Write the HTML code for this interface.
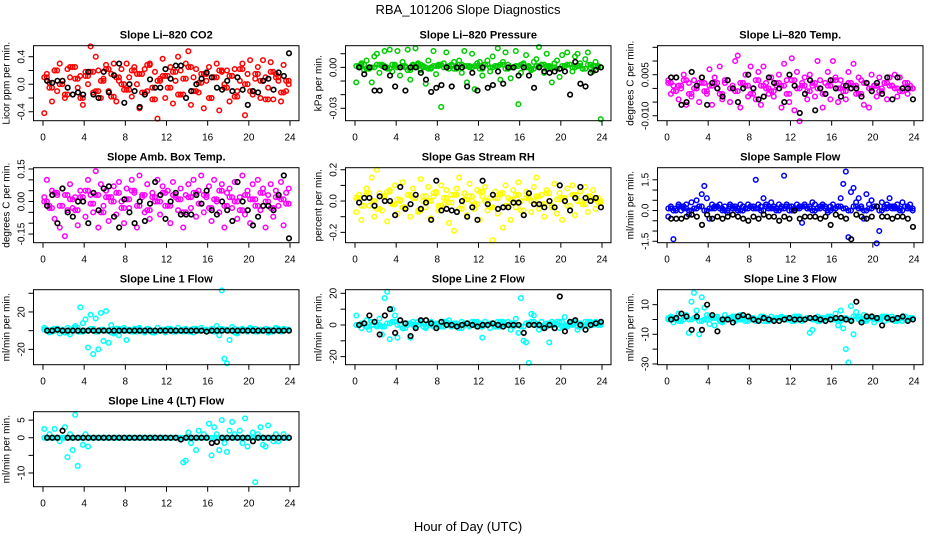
<!DOCTYPE html>
<html><head><meta charset="utf-8"><title>RBA_101206 Slope Diagnostics</title>
<style>
html,body{margin:0;padding:0;background:#fff;}
svg{display:block;font-family:"Liberation Sans",Arial,sans-serif;}
</style></head>
<body>
<svg id="chart" width="936" height="540" viewBox="0 0 936 540" xmlns="http://www.w3.org/2000/svg">
<text x="468" y="14" font-size="13" text-anchor="middle">RBA_101206  Slope Diagnostics</text>
<text x="468" y="531" font-size="13" text-anchor="middle">Hour of Day (UTC)</text>
</svg>
<script>
const xTicks = [0,4,8,12,16,20,24];

// Panel 1: CO2
const co2Vals = [-0.42,0.15,0.02,-0.25,0.2,-0.1,0.3,0.05,-0.2,0.22,0.1,-0.15,0.25,-0.05,0.12,-0.3,0.18,0.0,0.55,-0.12,0.4,0.2,-0.2,0.08,0.28,-0.1,0.15,0.3,-0.25,0.05,0.22,-0.08,0.3,0.1,-0.18,0.25,0.0,-0.35,0.15,0.22,-0.1,0.3,-0.05,0.18,-0.5,0.08,0.37,-0.2,0.12,0.25,-0.28,0.05,0.4,0.2,-0.15,0.3,0.48,-0.3,0.1,0.22,-0.12,0.15,-0.35,0.05,0.25,-0.2,0.1,0.3,-0.38,0.18,0.0,0.2,-0.25,0.12,0.22,-0.1,0.05,0.3,-0.45,0.15,0.35,-0.15,0.08,0.25,-0.2,0.35,0.1,-0.05,0.32,-0.22,0.15,0.05,-0.25,0.28,-0.1,0.0];
const co2Band = [0.1,-0.05,0.2,0.0,-0.15,0.25,0.08,-0.2,0.12,0.18,-0.1,0.05,0.22,-0.18,0.1,0.0,-0.08,0.2,0.15,-0.12,0.28,-0.22,0.05,0.12,-0.05,0.18,-0.15,0.08,0.25,-0.1,0.02,0.15,-0.2,0.1,0.2,-0.05,0.12,-0.18,0.22,0.0,-0.1,0.15,0.05,-0.22,0.18,0.1,-0.12,0.05];
const co2Ref = [0.05,0.02,0.05,0.05,-0.05,-0.15,-0.12,-0.15,0.18,-0.15,-0.2,0.18,-0.12,0.13,0.3,-0.27,0.0,-0.1,-0.33,-0.15,0.07,-0.05,-0.05,0.22,0.08,0.27,0.27,-0.2,-0.1,0.0,0.08,0.17,0.1,-0.05,-0.08,0.05,-0.1,0.1,-0.08,-0.3,-0.1,-0.12,0.05,0.08,-0.08,0.17,0.12,0.45];

// Panel 2: Pressure
const presVals = [-0.011,0.001,0.003,-0.002,0.005,0.0,-0.011,0.008,0.01,-0.004,0.002,0.012,0.0,0.013,-0.003,0.001,0.012,-0.006,0.004,0.0,0.013,-0.009,0.002,0.014,0.003,-0.002,0.001,-0.012,0.005,0.0,0.012,-0.005,0.001,-0.029,0.003,0.011,-0.001,0.002,0.004,0.0,0.005,-0.004,0.012,-0.011,0.001,0.01,-0.016,0.003,0.004,-0.006,0.002,0.005,-0.003,0.008,0.001,0.014,-0.009,0.004,0.011,0.002,-0.008,0.0,0.012,-0.027,-0.004,0.003,0.009,0.001,-0.002,0.004,0.006,0.015,0.002,-0.004,0.01,0.0,-0.011,0.003,0.005,-0.007,0.009,0.001,0.011,0.002,-0.003,0.008,0.01,0.003,-0.001,0.006,0.011,0.0,-0.003,0.004,0.001,-0.038];
const presBand = [0.001,0.002,-0.001,0.0,0.002,0.001,-0.001,0.002,0.0,0.001,-0.002,0.001,0.002,0.0,-0.001,0.001,0.002,0.0,0.001,-0.001,0.002,0.001,0.0,0.001,-0.001,0.002,0.0,0.001,0.002,-0.001,0.0,0.001,0.002,0.0,-0.001,0.001,0.002,0.001,0.0,-0.001,0.001,0.002,0.0,0.001,-0.001,0.002,0.001,0.0];
const presRef = [0.0,-0.005,0.0,-0.017,-0.017,0.0,-0.006,-0.014,0.0,-0.017,0.0,0.0,-0.004,-0.009,-0.018,-0.015,-0.013,0.0,-0.014,0.0,0.0,-0.014,-0.004,-0.017,0.0,-0.015,-0.013,-0.003,-0.012,0.0,0.0,-0.006,0.0,-0.006,-0.015,0.0,-0.003,-0.004,-0.003,-0.001,-0.003,-0.02,0.004,-0.012,-0.014,-0.004,-0.002,0.0];

// Panel 3: Li-820 temp
const ltVals = [0.003,-0.002,0.001,0.004,-0.004,0.0,0.005,-0.006,0.002,-0.003,0.003,0.0,-0.005,0.004,0.002,-0.002,0.007,-0.006,0.004,0.0,0.008,-0.004,0.002,0.003,-0.005,0.001,0.01,0.012,-0.007,0.002,0.005,-0.003,0.008,0.0,-0.004,0.006,-0.006,0.008,0.002,-0.002,0.004,-0.003,0.001,0.005,-0.007,0.009,0.003,-0.005,0.011,-0.008,0.006,-0.012,0.002,0.004,-0.004,0.005,0.001,-0.003,0.01,0.003,-0.007,0.002,0.006,-0.004,0.01,0.004,-0.005,0.003,0.001,-0.004,0.006,0.0,0.009,-0.002,0.004,0.003,-0.006,0.002,-0.007,0.005,0.001,-0.003,0.004,0.0,0.002,-0.004,0.004,0.001,0.005,-0.003,0.004,0.0,0.002,-0.002,0.001,0.0];
const ltBand = [0.002,-0.001,0.001,0.003,-0.002,0.0,0.002,-0.001,0.001,0.002,-0.002,0.003,0.0,-0.001,0.002,0.001,-0.002,0.003,0.001,0.0,-0.001,0.002,0.001,-0.002,0.003,0.0,0.001,-0.001,0.002,0.0,-0.002,0.001,0.003,0.0,-0.001,0.002,0.001,-0.002,0.002,0.0,0.001,-0.001,0.002,0.001,0.0,-0.001,0.002,0.0];
const ltRef = [0.004,0.004,-0.006,-0.005,0.006,0.001,0.004,-0.006,0.002,0.0,-0.003,0.003,0.0,-0.005,0.0,0.005,0.0,-0.004,-0.003,0.004,0.002,0.0,-0.005,0.005,0.001,-0.009,-0.002,0.003,-0.008,0.0,-0.002,0.003,0.0,-0.003,0.001,-0.0,0.0,-0.003,0.002,-0.001,0.002,-0.002,0.004,-0.004,0.004,0.0,0.0,-0.004];

// Panel 4: Amb box temp
const abVals = [0.02,0.1,-0.02,0.05,-0.08,0.03,-0.12,0.06,-0.16,-0.04,0.08,-0.03,0.02,-0.11,0.05,0.0,-0.07,0.1,0.03,-0.05,0.14,-0.12,0.08,-0.02,0.05,-0.09,0.02,0.07,-0.06,0.09,0.0,-0.1,0.06,-0.03,0.1,0.04,-0.12,0.12,0.02,-0.05,0.08,-0.08,0.04,0.0,0.1,-0.06,0.07,-0.02,0.05,-0.1,0.09,0.02,-0.04,0.06,-0.12,0.03,0.08,-0.03,0.1,-0.07,0.05,0.12,-0.05,0.02,0.07,-0.09,0.1,0.0,-0.05,0.08,-0.12,0.04,0.06,-0.03,0.09,-0.08,0.02,0.12,-0.06,0.05,-0.1,0.08,0.01,0.1,-0.04,0.06,-0.12,0.03,0.08,-0.07,0.05,-0.02,0.09,-0.11,0.04,0.06];
const abBand = [0.0,-0.03,0.04,-0.02,0.03,0.01,-0.04,0.02,0.05,-0.01,0.03,-0.05,0.02,0.0,0.04,-0.03,0.01,0.05,-0.02,0.03,-0.04,0.02,0.0,0.04,-0.02,0.03,0.01,-0.05,0.02,0.04,-0.01,0.03,-0.03,0.01,0.05,-0.02,0.02,0.0,-0.04,0.03,0.01,-0.02,0.04,0.0,-0.03,0.02,0.01,-0.01];
const abRef = [-0.02,0.03,-0.1,0.06,-0.05,-0.07,0.0,0.0,-0.1,0.04,-0.04,0.06,0.07,-0.07,-0.12,0.01,-0.05,-0.1,0.0,-0.09,-0.01,0.09,0.03,-0.08,0.0,0.04,-0.06,-0.06,-0.06,0.03,-0.01,0.05,-0.04,-0.06,0.0,-0.04,-0.09,0.09,0.0,-0.04,-0.11,-0.07,-0.02,-0.02,-0.04,0.03,0.12,-0.17];

// Panel 5: Gas stream RH
const rhVals = [-0.07,0.04,-0.12,0.02,0.08,-0.03,0.15,-0.1,0.2,0.05,-0.06,0.03,-0.13,0.07,-0.02,0.1,-0.08,0.0,0.12,-0.05,0.04,-0.1,0.08,0.02,-0.07,0.14,0.0,-0.04,0.09,-0.11,0.03,0.06,-0.06,0.1,-0.02,0.07,-0.14,0.04,-0.19,0.08,0.15,-0.03,0.05,-0.09,0.11,0.0,-0.05,0.07,-0.12,0.03,0.09,-0.06,0.02,-0.25,0.06,-0.08,0.04,-0.17,0.1,0.02,-0.12,0.07,-0.04,0.12,0.0,-0.09,0.06,0.03,-0.07,0.09,0.15,-0.05,0.04,-0.1,0.07,0.0,-0.03,0.11,-0.08,0.05,-0.12,0.02,0.08,-0.06,0.1,-0.09,0.04,0.06,-0.02,0.09,-0.07,0.03,0.07,-0.05,0.02,0.0];
const rhBand = [0.02,-0.03,0.05,0.0,-0.05,0.03,0.06,-0.02,0.01,-0.04,0.04,0.02,-0.06,0.03,0.0,0.05,-0.03,0.02,-0.01,0.04,-0.05,0.01,0.03,-0.02,0.06,0.0,-0.04,0.02,0.05,-0.03,0.01,0.04,-0.06,0.02,0.0,0.03,-0.02,0.05,-0.04,0.01,0.02,-0.03,0.04,0.0,-0.02,0.03,0.01,-0.01];
const rhRef = [-0.01,0.02,0.02,-0.03,0.03,0.0,0.0,-0.09,0.09,-0.05,-0.02,0.04,-0.05,-0.01,-0.12,0.13,-0.06,-0.05,-0.06,-0.07,0.0,-0.1,-0.04,-0.12,0.13,-0.02,0.04,-0.05,-0.04,-0.04,-0.01,-0.01,-0.09,0.05,-0.02,-0.02,-0.04,0.0,-0.04,0.1,0.0,-0.06,0.02,0.09,0.02,0.0,0.02,-0.04];

// Panel 6: Sample flow
const sfVals = [-0.3,0.2,-1.4,0.1,0.3,0.0,0.2,0.3,-0.2,0.4,0.1,0.5,0.2,0.8,1.2,0.6,-0.4,0.3,0.1,0.2,0.3,0.0,0.2,-0.1,0.3,0.1,0.2,0.0,0.3,0.2,0.1,0.3,0.2,0.1,1.5,0.3,0.2,0.6,0.3,0.1,0.4,0.2,0.1,0.3,0.2,1.7,0.3,0.0,0.2,0.1,0.3,0.2,-0.6,0.3,0.1,0.2,0.4,0.3,0.1,0.2,0.3,0.1,-0.1,0.2,0.3,0.1,0.2,0.6,1.3,1.9,-1.3,0.9,1.1,0.4,0.6,0.2,-0.4,0.8,0.3,0.5,0.2,-1.6,-1.0,0.4,0.2,0.3,0.6,0.1,0.2,0.3,0.1,0.4,0.2,0.1,0.3,0.0];
const sfBand = [0.1,0.0,0.2,0.1,0.0,0.1,0.2,0.0,0.1,0.2,0.1,0.0,0.2,0.1,0.0,0.1,0.2,0.1,0.0,0.2,0.1,0.0,0.1,0.2,0.0,0.1,0.2,0.1,0.0,0.1,0.2,0.0,0.1,0.2,0.1,0.0,0.2,0.1,0.0,0.1,0.2,0.0,0.1,0.2,0.1,0.0,0.2,0.1];
const sfRef = [-0.4,-0.4,-0.4,-0.3,-0.2,-0.3,-0.7,-0.2,-0.4,-0.3,-0.4,-0.3,-0.2,-0.3,-0.4,-0.5,-0.3,-0.4,-0.2,-0.3,-0.3,-0.5,-0.3,-0.4,0.0,-0.4,-0.3,-0.3,-0.3,-0.4,-0.3,-0.7,-0.2,-0.3,-0.4,-1.4,-0.2,-0.3,-0.4,-0.3,0.2,-0.3,-0.3,-0.4,-0.3,-0.3,-0.4,-0.8];

// Panel 7: Line 1 flow
const l1Vals = [3,0,-2,1,0,2,-3,1,0,3,-4,2,5,-1,25,8,12,-18,17,-25,13,-20,19,-11,21,-13,6,-3,2,-5,0,3,-10,1,0,2,-1,3,0,-2,2,1,0,-1,3,0,1,-2,2,0,1,-1,3,0,-1,2,0,1,-2,2,0,3,1,-1,0,2,0,5,-5,43,-30,-35,-10,4,2,-3,0,2,1,-1,3,0,2,-1,1,0,2,-2,1,0,3,0,-1,2,1,0];
const l1Band = [1,-1,2,0,-2,1,3,-1,0,2,-1,1,0,-2,2,1,0,-1,2,0,1,-2,0,1,2,-1,0,1,-1,2,0,1,0,-1,2,1,0,-2,1,0,2,-1,0,1,-1,2,0,1];
const l1Ref = [0,0,1,0,0,0,0,0,0,0,0,0,0,0,0,0,0,0,0,0,0,0,0,0,0,0,0,0,0,0,0,-1,0,0,0,0,0,0,0,0,0,0,0,0,0,0,0,0];

// Panel 8: Line 2 flow
const l2Vals = [6,0,-2,1,3,-3,0,2,-1,4,-6,17,21,-9,10,6,-8,3,-2,1,0,-8,2,-1,0,3,1,-2,0,2,-1,1,0,2,-1,0,3,-1,1,0,-2,2,0,1,-1,2,0,-1,1,-8,2,0,-2,1,0,2,-1,1,0,2,-3,-1,4,-5,17,-10,-11,-24,7,6,1,-3,2,0,-1,-11,2,1,0,-2,2,5,-1,1,0,2,-3,1,0,2,-1,1,0,2,0,1];
const l2Band = [0,1,-1,2,0,-1,1,2,0,-2,1,0,2,-1,1,0,-1,2,0,1,-2,1,0,2,-1,0,1,-1,2,0,1,0,-1,1,2,0,-1,1,0,2,-1,0,1,-1,0,2,1,0];
const l2Ref = [0,1,6,2,-6,6,10,-5,3,1,-7,-2,3,3,1,-2,2,0,0,-1,0,1,0,-1,0,0,1,0,-1,0,0,0,-5,0,0,0,-2,0,-2,18,-4,2,3,0,-3,0,1,2];

// Panel 9: Line 3 flow
const l3Vals = [0,2,-2,1,4,-1,0,3,-9,12,18,6,-10,15,8,3,-3,1,-4,2,0,-2,3,1,0,2,-1,0,3,1,-1,2,0,1,-1,0,2,-1,1,0,2,0,1,-1,2,0,1,0,-1,2,0,1,-1,0,1,-9,-7,0,2,1,0,-1,1,2,0,4,-4,6,-6,-20,-29,9,-10,5,2,-1,3,0,1,2,-2,1,0,2,-1,1,0,2,1,0,1,-1,2,0,1,0];
const l3Band = [1,0,-1,2,0,1,-1,0,2,1,-1,0,1,2,0,-1,1,0,2,-1,0,1,1,0,-1,2,0,1,0,-1,1,2,0,-1,1,0,2,0,-1,1,0,1,2,0,-1,1,0,1];
const l3Ref = [0,1,4,2,-7,2,-7,10,3,-8,0,0,-2,2,3,2,0,-1,1,0,-1,-1,0,1,0,0,0,1,1,0,-1,0,1,1,0,-1,12,-2,2,2,1,-4,1,0,1,2,-1,0];

// Panel 10: Line 4 (LT) flow
const l4Vals = [2.5,0,1,0,2.5,0,-1,0,3,-5.5,1,-3.5,6.5,-8,0,-2,1,-2.5,0,0,0,0,0,0,0,0,0,0,0,0,0,0,0,0,0,0,0,0,0,0,0,0,0,0,0,0,0,0,0,0,0,0,0,0,-7,-6.5,1.5,-1.5,0,-3.5,2,0,1,0,4,-5,3,1,-3.5,5,-1.5,-4,2,4.5,1,0,2,-1.5,5.5,-2.5,0,1.5,-12.6,1,3,-2,-2.5,3.5,0,-1,1,-1,0,1,0,0];
const l4Band = [0,0,0,0,0,0,0,0,0,0,0,0,0,0,0,0,0,0,0,0,0,0,0,0,0,0,0,0,0,0,0,0,0,0,0,0,0,0,0,0,0,0,0,0,0,0,0,0];
const l4Ref = [0,0,0,2,0,0,0,0,0,0,0,0,0,0,0,0,0,0,0,0,0,0,0,0,0,0,-0.5,0,0,0,0,0,-1.5,-1.2,0,0,0,0,0,0,-1,0,0,0,0,0,0,0];

const panels = [
 {name:'co2',col:0,row:0,title:'Slope Li\u2013820 CO2',ylab:'Licor ppm per min.',ymin:-0.53,ymax:0.56,ticks:[-0.4,-0.2,0,0.2,0.4],labels:['-0.4','','0.0','','0.4'],color:'#ff0000',vals:co2Vals,band:co2Band,ref:co2Ref},
 {name:'pressure',col:1,row:0,title:'Slope Li\u2013820 Pressure',ylab:'kPa per min.',ymin:-0.0391,ymax:0.0159,ticks:[-0.03,-0.02,-0.01,0,0.01],labels:['-0.03','','','0.00',''],color:'#00cc00',vals:presVals,band:presBand,ref:presRef},
 {name:'li-temp',col:2,row:0,title:'Slope Li\u2013820 Temp.',ylab:'degrees C per min.',ymin:-0.0118,ymax:0.0156,ticks:[-0.01,-0.005,0,0.005,0.01,0.015],labels:['-0.010','','','0.005','',''],color:'#ff00ff',vals:ltVals,band:ltBand,ref:ltRef},
 {name:'amb-box-temp',col:0,row:1,title:'Slope Amb. Box Temp.',ylab:'degrees C per min.',ymin:-0.19,ymax:0.156,ticks:[-0.15,-0.1,-0.05,0,0.05,0.1,0.15],labels:['-0.15','','','0.00','','','0.15'],color:'#ff00ff',vals:abVals,band:abBand,ref:abRef},
 {name:'gas-rh',col:1,row:1,title:'Slope Gas Stream RH',ylab:'percent per min.',ymin:-0.266,ymax:0.213,ticks:[-0.2,-0.1,0,0.1,0.2],labels:['-0.2','','0.0','','0.2'],color:'#ffff00',vals:rhVals,band:rhBand,ref:rhRef},
 {name:'sample-flow',col:2,row:1,title:'Slope Sample Flow',ylab:'ml/min per min.',ymin:-1.57,ymax:2.09,ticks:[-1.5,-1,-0.5,0,0.5,1,1.5],labels:['-1.5','','','0.0','','','1.5'],color:'#0000ff',vals:sfVals,band:sfBand,ref:sfRef},
 {name:'line1-flow',col:0,row:2,title:'Slope Line 1 Flow',ylab:'ml/min per min.',ymin:-36.4,ymax:43.8,ticks:[-20,0,20,40],labels:['-20','','20',''],color:'#00ffff',vals:l1Vals,band:l1Band,ref:l1Ref},
 {name:'line2-flow',col:1,row:2,title:'Slope Line 2 Flow',ylab:'ml/min per min.',ymin:-25.1,ymax:22.3,ticks:[-20,-10,0,10,20],labels:['-20','','0','','20'],color:'#00ffff',vals:l2Vals,band:l2Band,ref:l2Ref},
 {name:'line3-flow',col:2,row:2,title:'Slope Line 3 Flow',ylab:'ml/min per min.',ymin:-30.5,ymax:20.1,ticks:[-30,-20,-10,0,10],labels:['-30','','-10','','10'],color:'#00ffff',vals:l3Vals,band:l3Band,ref:l3Ref},
 {name:'line4-flow',col:0,row:3,title:'Slope Line 4 (LT) Flow',ylab:'ml/min per min.',ymin:-13.9,ymax:7.4,ticks:[-10,-5,0,5],labels:['-10','','0','5'],color:'#00ffff',vals:l4Vals,band:l4Band,ref:l4Ref}
];

const svg = document.getElementById('chart');
const NS = 'http://www.w3.org/2000/svg';
function mk(tag, attrs, parent){
  const e = document.createElementNS(NS, tag);
  for (const k in attrs) e.setAttribute(k, attrs[k]);
  parent.appendChild(e);
  return e;
}

panels.forEach(p => {
  const bx0 = 33.5 + p.col*312, bx1 = bx0 + 265.5;
  const by0 = 45.7 + p.row*122, by1 = by0 + 75;
  const xs = h => bx0 + 9.5 + h*(247/24);
  const ys = v => by1 - (v - p.ymin)/(p.ymax - p.ymin)*(by1 - by0);
  const g = mk('g', {}, svg);
  
  

  const t = mk('text', {x:(bx0+bx1)/2, y:by0-7, 'font-size':11, 'font-weight':'bold', 'text-anchor':'middle'}, g);
  t.textContent = p.title;
  
  

  const yl = mk('text', {x:0, y:0, 'font-size':10, 'text-anchor':'middle', transform:`translate(${bx0-24},${(by0+by1)/2}) rotate(-90)`}, g);
  yl.textContent = p.ylab;
  
  

  function drawSeries(arr, offset, color, sw, name){
    const n = arr.length;
    arr.forEach((v,i) => {
      const h = (i + offset) * 24 / n;
      const c = mk('circle', {cx:xs(h), cy:ys(v), r:2.3, fill:'none', stroke:color, 'stroke-width':sw}, g);
      
      
    });
  }
  drawSeries(p.band, 0.25, p.color, 1.5, 'point');
  drawSeries(p.vals, 0.5, p.color, 1.5, 'point');
  drawSeries(p.band, 0.75, p.color, 1.5, 'point');
  const m = p.ref.length;
  p.ref.forEach((v,i) => {
    const h = (i + 1) * 24 / m - 0.1;
    const c = mk('circle', {cx:xs(h), cy:ys(v), r:2.3, fill:'none', stroke:'#000', 'stroke-width':1.6}, g);
    
    
  });

  const box = mk('rect', {x:bx0, y:by0, width:bx1-bx0, height:by1-by0, fill:'none', stroke:'#000', 'stroke-width':1}, g);
  
  

  xTicks.forEach(h => {
    const x = xs(h);
    mk('line', {x1:x, x2:x, y1:by1, y2:by1+5, stroke:'#000'}, g);
    const tl = mk('text', {x:x, y:by1+20, 'font-size':10, 'text-anchor':'middle'}, g);
    tl.textContent = h;
    
    
  });
  p.ticks.forEach((v,i) => {
    const y = ys(v);
    mk('line', {x1:bx0-5, x2:bx0, y1:y, y2:y, stroke:'#000'}, g);
    if (p.labels[i]) {
      const tl = mk('text', {x:0, y:0, 'font-size':10, 'text-anchor':'middle', transform:`translate(${bx0-9},${y}) rotate(-90)`}, g);
      tl.textContent = p.labels[i];
      
      
    }
  });
});
</script>
</body></html>
